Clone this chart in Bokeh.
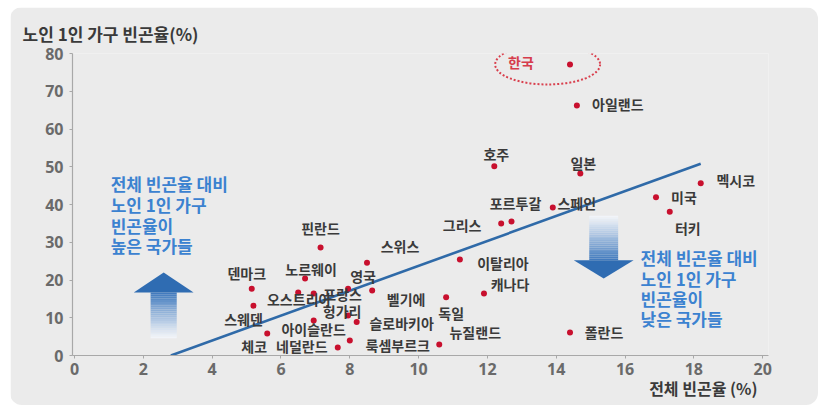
import numpy as np
from bokeh.plotting import figure
from bokeh.models import ColumnDataSource, Range1d, FixedTicker, Title
from bokeh.core.properties import value
from bokeh.embed import file_html
from bokeh.resources import INLINE

# ---------------- data ----------------
countries = ["한국", "아일랜드", "호주", "일본", "스페인", "포르투갈", "그리스",
             "멕시코", "미국", "터키", "폴란드", "이탈리아", "캐나다", "독일",
             "뉴질랜드", "룩셈부르크", "네덜란드", "체코", "아이슬란드", "헝가리",
             "슬로바키아", "스웨덴", "오스트리아", "덴마크", "노르웨이", "프랑스",
             "영국", "벨기에", "스위스", "핀란드"]
total_poverty = [14.4, 14.6, 12.2, 14.7, 13.9, 12.7, 12.4,
                 18.2, 16.9, 17.3, 14.4, 11.2, 11.9, 10.8,
                 10.6, 8.0, 7.65, 5.6, 6.95, 7.95,
                 8.2, 5.2, 6.5, 5.15, 6.7, 6.95,
                 7.95, 8.65, 8.5, 7.15]
elderly_single_poverty = [77.1, 66.2, 50.1, 48.2, 39.2, 35.5, 35.0,
                          45.6, 41.9, 38.1, 6.1, 25.4, 16.4, 15.4,
                          2.9, 4.0, 2.1, 5.8, 9.3, 10.6,
                          8.9, 13.2, 16.7, 17.7, 20.4, 16.4,
                          17.7, 17.2, 24.6, 28.6]

x_ticks = [0, 2, 4, 6, 8, 10, 12, 14, 16, 18, 20]
y_ticks = [0, 10, 20, 30, 40, 50, 60, 70, 80]

trend_x = [2.8, 18.2]
trend_y = [0.0, 50.8]

y_title = "노인 1인 가구 빈곤율(%)"
x_title = "전체 빈곤율 (%)"
note_high = ["전체 빈곤율 대비", "노인 1인 가구", "빈곤율이", "높은 국가들"]
note_low = ["전체 빈곤율 대비", "노인 1인 가구", "빈곤율이", "낮은 국가들"]

# ---------------- layout (label placement in screen px) ----------------
label_dx = [-49, 41, 2, 3, 24, 4, -39,
            35, 28, 18, 34, 43, 26, 5,
            36, 48, -36, -13, 0, -6,
            45, -10, 1, -5, 6, 29,
            15, 34, 33, 0]
label_dy = [-2, -2, -12, -11, -5, -18, 2,
            -3, 0, 16, 0, 3, -10, 16,
            -13, 5, -2, 12, 9, -4,
            1, 13, 7, -16, -9, 0,
            -13, 8, -17, -20]

BG = "#ebebeb"
BLUE = "#2f6cb2"
TEXT_BLUE = "#3b82d0"
KFONT = "Noto Sans CJK KR"

p = figure(width=808, height=398, output_backend="svg", toolbar_location=None,
           x_range=Range1d(-0.06, 20.17), y_range=Range1d(0, 80),
           min_border_left=62, min_border_right=50, min_border_top=46,
           min_border_bottom=50)
p.margin = (7, 0, 6, 10)
p.styles = {"border-radius": "12px", "overflow": "hidden"}
p.background_fill_color = BG
p.border_fill_color = BG
p.outline_line_color = None
p.grid.visible = False

for ax in (p.xaxis[0], p.yaxis[0]):
    ax.axis_line_color = "#a8a8a8"
    ax.axis_line_width = 1.2
    ax.major_tick_line_color = "#a8a8a8"
    ax.major_tick_in = 0
    ax.major_tick_out = 3
    ax.minor_tick_line_color = None
    ax.major_label_text_font = "Open Sans"
    ax.major_label_text_font_style = "bold"
    ax.major_label_text_font_size = "16px"
    ax.major_label_text_color = "#6a6a6a"
p.xaxis.ticker = FixedTicker(ticks=x_ticks)
p.yaxis.ticker = FixedTicker(ticks=y_ticks)
p.xaxis.major_label_standoff = 4
p.yaxis.major_label_standoff = 6

# titles in side panels
p.add_layout(Title(text=y_title, align="left", offset=-50, text_font=KFONT,
                   text_font_style="bold", text_font_size="17px",
                   text_color="#3a3a3a", standoff=15), "above")
p.add_layout(Title(text=x_title, align="right", offset=11, text_font=KFONT,
                   text_font_style="bold", text_font_size="16px",
                   text_color="#3a3a3a", standoff=-7), "below")


def mix(c1, c2, t):
    a = np.array([int(c1[i:i + 2], 16) for i in (1, 3, 5)])
    b = np.array([int(c2[i:i + 2], 16) for i in (1, 3, 5)])
    c = (a + (b - a) * t).astype(int)
    return "#%02x%02x%02x" % tuple(c)


# ---- gradient arrows (decoration) ----
def arrow(cx, y_tail, y_base, y_tip, shaft_hw, head_hw):
    n = 24
    edges = np.linspace(y_tail, y_base, n + 1)
    lefts, rights, bots, tops, cols = [], [], [], [], []
    for i in range(n):
        t = (i + 0.5) / n
        lefts.append(cx - shaft_hw)
        rights.append(cx + shaft_hw)
        bots.append(min(edges[i], edges[i + 1]))
        tops.append(max(edges[i], edges[i + 1]))
        cols.append(mix("#f4f6fa", "#3f79bd", t ** 1.1))
    p.quad(left=lefts, right=rights, bottom=bots, top=tops, fill_color=cols,
           line_color=None)
    p.patch([cx - head_hw, cx + head_hw, cx], [y_base, y_base, y_tip],
            fill_color=BLUE, line_color=None)


arrow(2.59, 4.6, 16.7, 22.0, 0.38, 0.87)
arrow(15.38, 37.0, 25.2, 20.4, 0.42, 0.87)

# trend line
p.line(trend_x, trend_y, line_color="#2f6aa8", line_width=2.6)

# red dotted ellipse around Korea
p.ellipse(x=[13.75], y=[77.1], width=3.05, height=10.6, fill_color=None,
          line_color="#d9404e", line_width=2, line_dash="2 2")

src = ColumnDataSource(dict(x=total_poverty, y=elderly_single_poverty,
                            name=countries, dx=label_dx, dy=label_dy,
                            color=["#d63c4c"] + ["#3a3a3a"] * (len(countries) - 1)))
p.scatter("x", "y", source=src, size=6, fill_color="#c8102e", line_color=None)
p.text("x", "y", text="name", source=src, x_offset="dx", y_offset="dy",
       text_align="center", text_baseline="middle", text_font=value(KFONT),
       text_font_style="bold", text_font_size="14px", text_color="color")

# blue notes
hx = [1.05] * 4
hy = [45.5, 40.0, 34.5, 29.2]
p.text(hx, hy, text=note_high, text_align="left", text_baseline="middle",
       text_font=value(KFONT), text_font_style="bold", text_font_size="17px",
       text_color=TEXT_BLUE)
lx = [16.45] * 4
ly = [25.9, 20.5, 15.1, 9.8]
p.text(lx, ly, text=note_low, text_align="left", text_baseline="middle",
       text_font=value(KFONT), text_font_style="bold", text_font_size="17px",
       text_color=TEXT_BLUE)

open("out.html", "w").write(file_html(p, INLINE))
